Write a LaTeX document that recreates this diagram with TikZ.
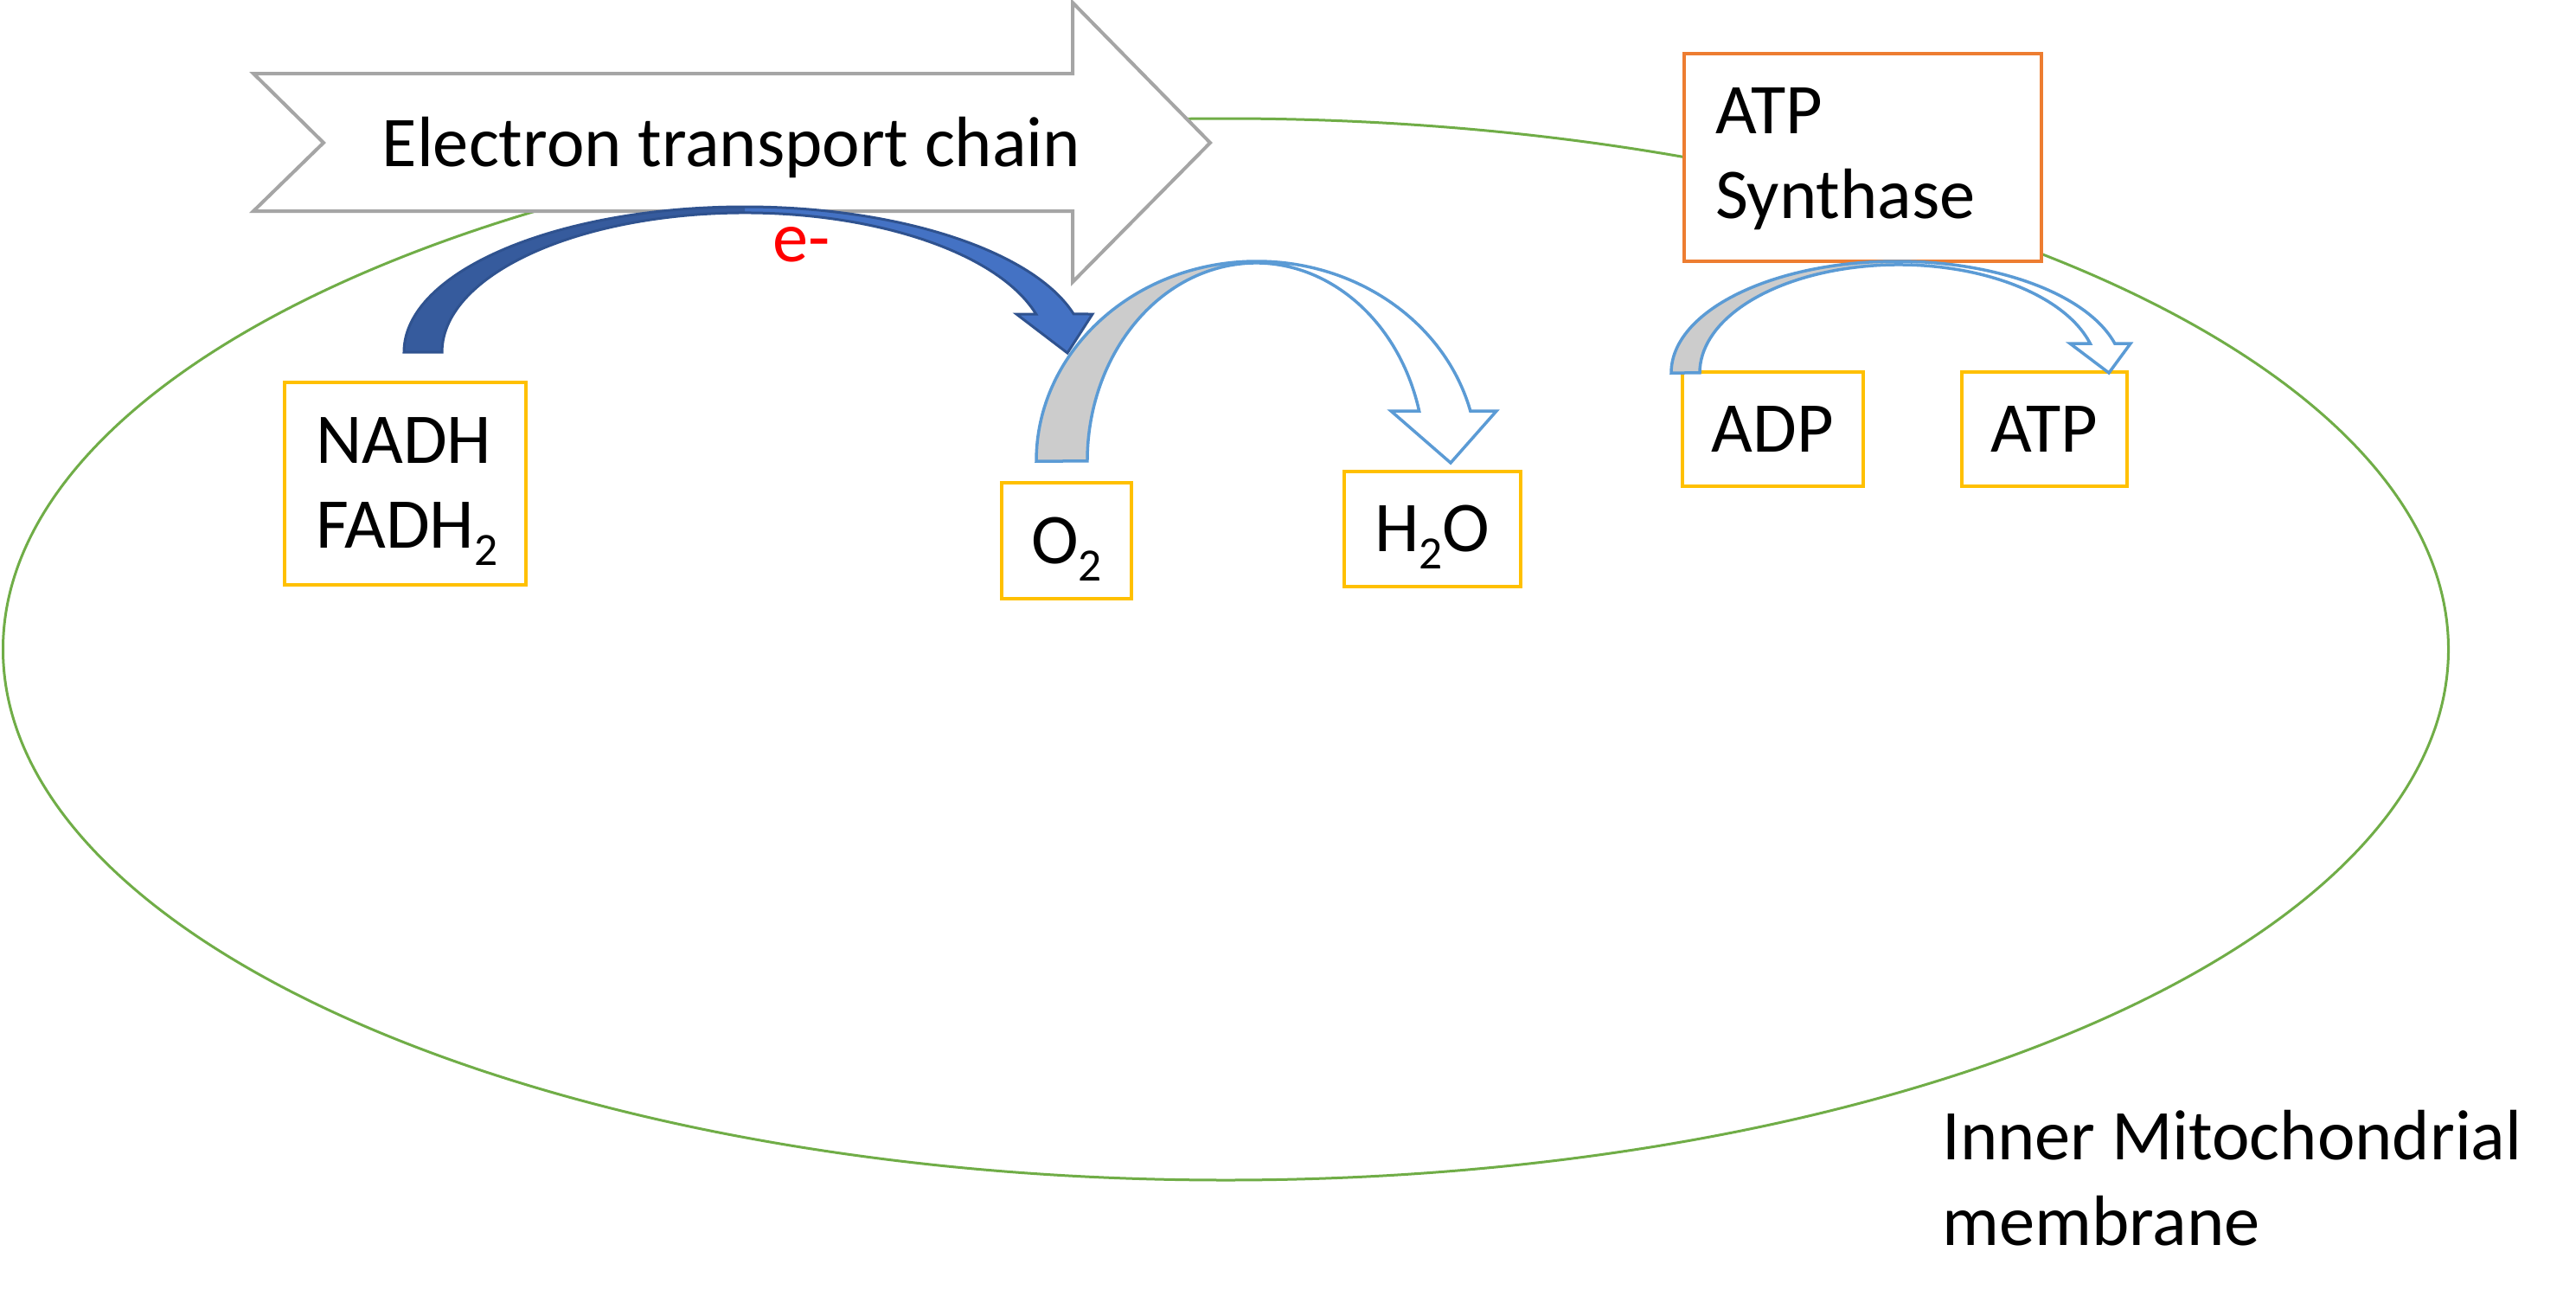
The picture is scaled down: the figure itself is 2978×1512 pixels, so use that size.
\documentclass[tikz,border=0pt]{standalone}
\usepackage{fontspec}
\setmainfont{Carlito}
\definecolor{memgreen}{HTML}{70AD47}
\definecolor{chevgray}{HTML}{A5A5A5}
\definecolor{boxyellow}{HTML}{FFC000}
\definecolor{synorange}{HTML}{ED7D31}
\definecolor{eblue}{HTML}{4472C4}
\definecolor{eblueback}{HTML}{365B9D}
\definecolor{eblueline}{HTML}{2F528F}
\definecolor{lblue}{HTML}{5B9BD5}
\definecolor{backgray}{HTML}{CCCCCC}
\definecolor{ered}{HTML}{FF0000}
\newcommand\mysub[1]{\raisebox{-20pt}{\fontsize{53.5}{53.5}\selectfont #1}}
\begin{document}
\begin{tikzpicture}[x=1pt,y=1pt,
  lbl/.style={font=\fontsize{82.5}{98.5}\selectfont, inner sep=0pt},
  molbox/.style={lbl, draw=boxyellow, line width=4pt, fill=white, text height=70pt, text depth=18pt},
  synbox/.style={lbl, draw=synorange, line width=4pt, fill=white, align=left},
  chevron/.style={draw=chevgray, line width=4pt, fill=white, line join=miter},
  membrane/.style={draw=memgreen, line width=3pt},
  earrowfront/.style={fill=eblue},
  earrowback/.style={fill=eblueback},
  earrowline/.style={draw=eblueline, line width=3pt, line join=miter},
  rarrowfront/.style={fill=white},
  rarrowback/.style={fill=backgray},
  rarrowline/.style={draw=lblue, line width=3.5pt, line join=miter}]

\fill[white] (0,0) rectangle (2978,-1512);
\path[use as bounding box] (0,0) rectangle (2978,-1512);

% inner mitochondrial membrane
\draw[membrane] (1417,-750.5) ellipse [x radius=1413.5pt, y radius=613.5pt];

% electron transport chain chevron
\draw[chevron] (293,-85) -- (1240,-85) -- (1240,-3) -- (1399,-165) -- (1240,-326)
  -- (1240,-244) -- (293,-244) -- (374,-165) -- cycle;
\node[lbl, anchor=base] (etc) at (845.5,-192) {Electron transport chain};

% ATP synthase
\node[synbox, minimum width=413pt, minimum height=240pt, text width=341pt,
      text height=62pt, text depth=118pt] (synth) at (2153.5,-182) {ATP\\Synthase};

% electron arrow (NADH -> O2)
\coordinate (eStart) at (467,-407);
\coordinate (eTip) at (1234,-408);
\path[earrowfront] (eStart) arc[start angle=180, end angle=15.19, x radius=394pt, y radius=168pt]
  -- (1263,-363) -- (eTip) -- (1175,-363) -- (1197.7,-363)
  arc[start angle=15.86, end angle=180, x radius=350pt, y radius=161pt] -- cycle;
\path[earrowback] (eStart) arc[start angle=180, end angle=90, x radius=394pt, y radius=168pt]
  -- (861,-246) arc[start angle=90, end angle=180, x radius=350pt, y radius=161pt] -- cycle;
\path[earrowline] (eStart) arc[start angle=180, end angle=15.19, x radius=394pt, y radius=168pt]
  -- (1263,-363) -- (eTip) -- (1175,-363) -- (1197.7,-363)
  arc[start angle=15.86, end angle=180, x radius=350pt, y radius=161pt] -- cycle;
\node[lbl, anchor=base west, text=ered] (elec) at (893,-302) {e-};

% O2 -> H2O arrow
\coordinate (oStart) at (1198,-533);
\coordinate (oTip) at (1677,-535);
\path[rarrowfront] (oStart) arc[start angle=180, end angle=14.54, x radius=255pt, y radius=231pt]
  -- (1730,-475) -- (oTip) -- (1608,-475) -- (1640.6,-475)
  arc[start angle=14.67, end angle=180, x radius=195pt, y radius=229pt] -- cycle;
\path[rarrowback] (oStart) arc[start angle=180, end angle=90, x radius=255pt, y radius=231pt]
  -- (1452,-304) arc[start angle=90, end angle=180, x radius=195pt, y radius=229pt] -- cycle;
\path[rarrowline] (oStart) arc[start angle=180, end angle=14.54, x radius=255pt, y radius=231pt]
  -- (1730,-475) -- (oTip) -- (1608,-475) -- (1640.6,-475)
  arc[start angle=14.67, end angle=180, x radius=195pt, y radius=229pt] -- cycle;

% molecule boxes
\node[molbox, minimum width=279pt, minimum height=234pt, align=left, text width=207pt,
      text height=70pt, text depth=118pt] (nadh) at (468.5,-559) {NADH\\FADH\mysub{2}};
\node[molbox, minimum width=150pt, minimum height=134pt] (o2) at (1233,-625) {O\mysub{2}};
\node[molbox, minimum width=204pt, minimum height=133pt] (h2o) at (1656,-611.5) {H\mysub{2}O};
\node[molbox, minimum width=209pt, minimum height=132pt] (adp) at (2049.5,-496) {ADP};
\node[molbox, minimum width=191pt, minimum height=132pt] (atp) at (2363.5,-496) {ATP};

% ADP -> ATP arrow
\coordinate (aStart) at (1932,-431);
\coordinate (aTip) at (2438,-431);
\path[rarrowfront] (aStart) arc[start angle=180, end angle=15.28, x radius=261pt, y radius=129pt]
  -- (2463,-397) -- (aTip) -- (2393,-397) -- (2416.3,-397)
  arc[start angle=15.78, end angle=180, x radius=230pt, y radius=125pt] -- cycle;
\path[rarrowback] (aStart) arc[start angle=180, end angle=90, x radius=261pt, y radius=129pt]
  -- (2195,-306) arc[start angle=90, end angle=180, x radius=230pt, y radius=125pt] -- cycle;
\path[rarrowline] (aStart) arc[start angle=180, end angle=15.28, x radius=261pt, y radius=129pt]
  -- (2463,-397) -- (aTip) -- (2393,-397) -- (2416.3,-397)
  arc[start angle=15.78, end angle=180, x radius=230pt, y radius=125pt] -- cycle;

% label
\node[lbl, anchor=base west, align=left] (imm) at (2245,-1439)
  {Inner Mitochondrial\\membrane};
\end{tikzpicture}
\end{document}
